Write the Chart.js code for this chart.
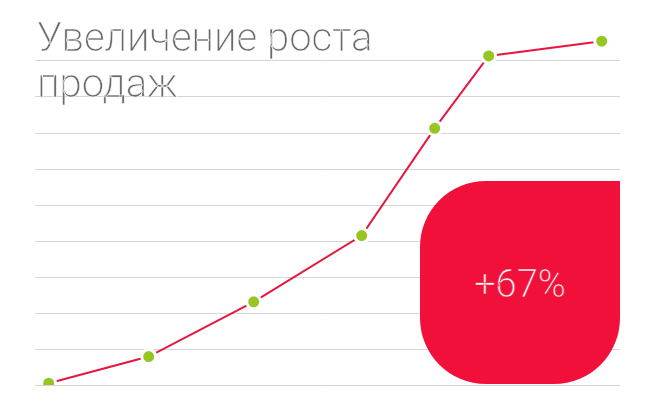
<!DOCTYPE html>
<html>
<head>
<meta charset="utf-8">
<script src="https://cdn.jsdelivr.net/npm/chart.js@4"></script>
<style>
  html, body { margin: 0; padding: 0; background: #fff; }
  #wrap { position: relative; width: 656px; height: 411px; }
  #title {
    position: absolute; left: 37px; top: 15px;
    font-family: Roboto, sans-serif; font-weight: 300;
    font-size: 40px; line-height: 46px; color: #6a6a6a;
    -webkit-text-stroke: 0.5px #ffffff;
  }
  #badge {
    position: absolute; left: 420px; top: 181px; width: 200px; height: 203px;
    background: #f0103a; border-radius: 66px 0 66px 66px;
    display: flex; align-items: center; justify-content: center;
    font-family: Roboto, sans-serif; font-weight: 300; font-size: 38px;
    color: #fff; padding-top: 2px; box-sizing: border-box;
    -webkit-text-stroke: 0.5px #f0103a;
  }
</style>
</head>
<body>
<div id="wrap">
  <canvas id="chart" width="656" height="411"></canvas>
  <div id="title">Увеличение роста<br>продаж</div>
  <div id="badge">+67%</div>
</div>
<script>
const xs = [0, 10, 20.5, 31.3, 38.6, 44, 55.3];
const ys = [0.5, 7.9, 23.1, 41.5, 71.3, 91.4, 95.5];
const badgeText = '+67%';

document.getElementById('badge').textContent = badgeText;

const points = xs.map((x, i) => ({ x: x, y: ys[i] }));

const ctx = document.getElementById('chart').getContext('2d');
const myChart = new Chart(ctx, {
    type: 'line',
    data: {
        datasets: [{
            data: points,
            fill: false,
            borderColor: '#e5173f',
            borderWidth: 2,
            pointBackgroundColor: '#97c623',
            pointBorderColor: '#ffffff',
            pointBorderWidth: 3,
            pointRadius: 7,
            pointHoverRadius: 7,
            tension: 0
        }]
    },
    options: {
        responsive: false,
        animation: false,
        events: [],
        layout: { padding: { left: 35, right: 36, top: 25, bottom: 26 } },
        plugins: { legend: { display: false }, tooltip: { enabled: false } },
        scales: {
            x: {
                type: 'linear',
                display: false,
                min: -1.37,
                max: 57.13
            },
            y: {
                min: 0,
                max: 100,
                border: { display: false },
                ticks: { display: false, stepSize: 10 },
                grid: {
                    drawTicks: false,
                    lineWidth: 1,
                    color: c => c.tick && c.tick.value === 100 ? 'rgba(0,0,0,0)' : '#d6d6d6'
                }
            }
        }
    }
});
</script>
</body>
</html>
